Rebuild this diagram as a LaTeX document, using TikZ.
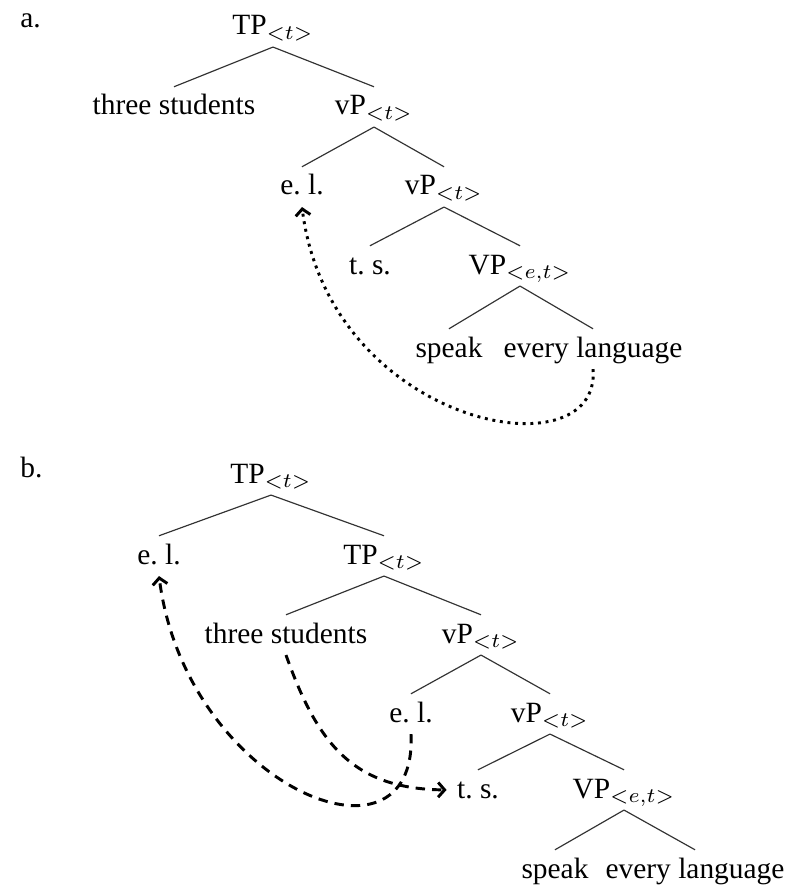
\documentclass[tikz,border=0pt]{standalone}
\usepackage{fontspec}
\setmainfont{Liberation Serif}
\usetikzlibrary{arrows.meta}

\tikzset{
	cat/.style={anchor=base, inner sep=1.4pt, text height=0.8em, text depth=0.25em},
	branch/.style={draw=black!80, line width=0.4pt},
	move/.style={line width=1pt, -{Straight Barb[length=2.2pt,width=5pt]}},
	moveA/.style={move, dash pattern=on 1pt off 1.6pt},
	moveB/.style={move, dash pattern=on 3.2pt off 2.4pt}
}

\begin{document}
\begin{tikzpicture}[x=0.34pt, y=-0.34pt]
	\useasboundingbox (0,0) rectangle (785,886);

	% (a) tree
	\node[anchor=base west] (labA) at (10,28) {a.};
	\node[cat] (tpA) at (273,35) {TP$_{<t>}$};
	\node[cat] (tsA) at (174,115) {three students};
	\node[cat] (vpA) at (374,115) {vP$_{<t>}$};
	\node[cat] (elA) at (302,195) {e.\ l.};
	\node[cat] (vpA2) at (444,195) {vP$_{<t>}$};
	\node[cat] (tsA2) at (370,274) {t.\ s.};
	\node[cat] (VpA) at (520,274) {VP$_{<e,t>}$};
	\node[cat] (spA) at (449,357) {speak};
	\node[cat] (evlA) at (593,357) {every language};

	\draw[branch] (tpA.south) -- (tsA.north);
	\draw[branch] (tpA.south) -- (vpA.north);
	\draw[branch] (vpA.south) -- (elA.north);
	\draw[branch] (vpA.south) -- (vpA2.north);
	\draw[branch] (vpA2.south) -- (tsA2.north);
	\draw[branch] (vpA2.south) -- (VpA.north);
	\draw[branch] (VpA.south) -- (spA.north);
	\draw[branch] (VpA.south) -- (evlA.north);

	\draw[moveA] (evlA.south) .. controls +(9,107) and +(28,220) .. (elA.south);

	% (b) tree
	\node[anchor=base west] (labB) at (10,477) {b.};
	\node[cat] (tpB) at (271,483) {TP$_{<t>}$};
	\node[cat] (elB) at (159,564) {e.\ l.};
	\node[cat] (tpB2) at (384,564) {TP$_{<t>}$};
	\node[cat] (tsB) at (286,643) {three students};
	\node[cat] (vpB) at (481,643) {vP$_{<t>}$};
	\node[cat] (elB2) at (411,722) {e.\ l.};
	\node[cat] (vpB2) at (550,722) {vP$_{<t>}$};
	\node[cat] (tsB2) at (478,798) {t.\ s.};
	\node[cat] (VpB) at (624,798) {VP$_{<e,t>}$};
	\node[cat] (spB) at (555,878) {speak};
	\node[cat] (evlB) at (695,878) {every language};

	\draw[branch] (tpB.south) -- (elB.north);
	\draw[branch] (tpB.south) -- (tpB2.north);
	\draw[branch] (tpB2.south) -- (tsB.north);
	\draw[branch] (tpB2.south) -- (vpB.north);
	\draw[branch] (vpB.south) -- (elB2.north);
	\draw[branch] (vpB.south) -- (vpB2.north);
	\draw[branch] (vpB2.south) -- (tsB2.north);
	\draw[branch] (vpB2.south) -- (VpB.north);
	\draw[branch] (VpB.south) -- (spB.north);
	\draw[branch] (VpB.south) -- (evlB.north);

	\draw[moveB] (tsB.south) .. controls +(31,87) and +(-95,-1) .. ([xshift=-2pt]tsB2.west);
	\draw[moveB] (elB2.south) .. controls +(7,148) and +(27,210) .. (elB.south);
\end{tikzpicture}
\end{document}
